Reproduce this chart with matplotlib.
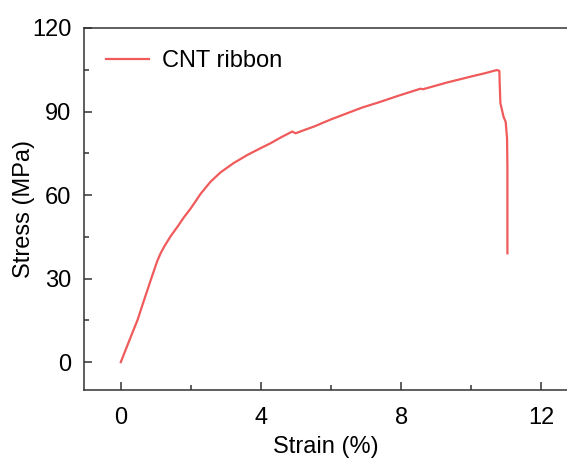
import matplotlib.pyplot as plt
from matplotlib.ticker import MultipleLocator

plt.rcParams['font.family'] = ['Liberation Sans', 'DejaVu Sans']

# CNT ribbon stress-strain curve
strain = [0.0, 0.14, 0.285, 0.476, 0.664, 0.855, 0.96, 1.046, 1.14, 1.234,
          1.42, 1.615, 1.80, 1.994, 2.28, 2.56, 2.85, 3.22, 3.61, 3.95,
          4.27, 4.58, 4.89, 4.99, 5.20, 5.51, 5.98, 6.46, 6.90, 7.36, 7.95,
          8.55, 8.62, 9.30, 9.97, 10.40, 10.73, 10.80, 10.81, 10.83, 10.92,
          10.98, 11.02, 11.03, 11.03, 11.03]
stress = [0.0, 4.5, 9.1, 15.1, 22.3, 29.5, 33.4, 36.5, 39.2, 41.4,
          45.2, 48.6, 52.0, 55.2, 60.5, 64.8, 68.2, 71.5, 74.4, 76.6,
          78.6, 80.8, 82.8, 82.2, 83.2, 84.6, 87.1, 89.4, 91.5, 93.3, 95.8,
          98.2, 98.0, 100.4, 102.5, 103.8, 104.9, 104.6, 100.0, 93.0, 88.1,
          86.3, 80.4, 70.0, 55.0, 39.1]

xticks = [0, 4, 8, 12]
yticks = [0, 30, 60, 90, 120]

fig = plt.figure(figsize=(5.67, 4.61), dpi=100)
ax = fig.add_axes([84 / 567, 1 - 390 / 461, 1 - 84 / 567, (390 - 28) / 461])

ax.plot(strain, stress, color='#f05a5a', linewidth=1.6, label='CNT ribbon')

ax.set_xlim(-1.05, 12.73)
ax.set_ylim(-10, 120)
ax.set_xticks(xticks)
ax.set_yticks(yticks)
ax.xaxis.set_minor_locator(MultipleLocator(2))
ax.yaxis.set_minor_locator(MultipleLocator(15))

for s in ['left', 'bottom', 'top']:
    ax.spines[s].set_color('#333333')
    ax.spines[s].set_linewidth(1.1)
ax.spines['right'].set_visible(False)

ax.tick_params(which='both', direction='in', colors='#333333', labelcolor='black',
               labelsize=17, top=False, right=False)
ax.tick_params(which='major', length=6, width=1.1)
ax.tick_params(which='minor', length=3.5, width=1.1)
ax.tick_params(axis='x', which='major', pad=12)
ax.tick_params(axis='y', which='major', pad=9)

ax.set_xlabel('Strain (%)', fontsize=17, labelpad=5)
ax.set_ylabel('Stress (MPa)', fontsize=17, labelpad=-2)

ax.legend(loc='upper left', frameon=False, fontsize=17, handlelength=1.8,
          handletextpad=0.55, borderaxespad=0.55)

fig.savefig('out.png', dpi=100)
